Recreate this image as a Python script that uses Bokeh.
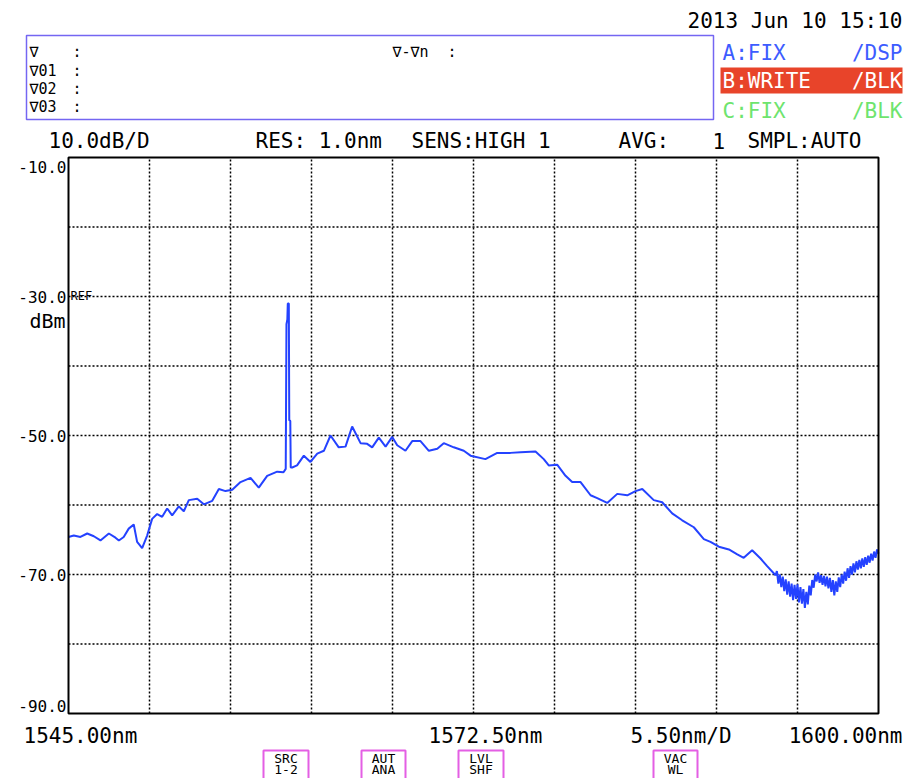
from bokeh.plotting import figure
from bokeh.models import Range1d
from bokeh.core.properties import value
from bokeh.embed import file_html
from bokeh.resources import INLINE

# ---------------- data ----------------
wavelength_nm = [
    1545.00, 1545.36, 1545.81, 1546.27, 1546.72, 1547.17, 1547.74, 1548.19, 1548.42, 1548.75,
    1549.09, 1549.43, 1549.66, 1550.00, 1550.34, 1550.68, 1551.02, 1551.36, 1551.70, 1552.04,
    1552.49, 1552.83, 1553.17, 1553.74, 1554.19, 1554.76, 1555.21, 1555.66, 1556.12, 1556.68,
    1557.36, 1557.92, 1558.49, 1559.17, 1559.60, 1559.75, 1559.80, 1559.86, 1559.89, 1559.96,
    1559.99, 1560.06, 1560.09, 1560.19, 1560.52, 1560.98, 1561.43, 1561.89, 1562.34, 1562.79,
    1563.35, 1563.81, 1564.26, 1564.83, 1565.28, 1565.62, 1566.07, 1566.53, 1566.98, 1567.32,
    1567.88, 1568.34, 1568.90, 1569.47, 1570.04, 1570.48, 1571.16, 1571.84, 1572.30, 1573.31,
    1574.11, 1575.01, 1575.69, 1576.71, 1577.27, 1577.61, 1578.18, 1578.75, 1579.20, 1579.77,
    1580.45, 1580.90, 1581.58, 1582.26, 1582.94, 1583.50, 1583.96, 1584.74, 1585.31, 1585.99,
    1586.67, 1587.46, 1588.14, 1588.59, 1589.16, 1589.84, 1590.41, 1590.85, 1591.42, 1591.99,
    1592.44, 1593.01,
    1593.1, 1593.2, 1593.3, 1593.4, 1593.5, 1593.6, 1593.7, 1593.8, 1593.9, 1594.0,
    1594.1, 1594.2, 1594.3, 1594.4, 1594.5, 1594.6, 1594.7, 1594.8, 1594.9, 1595.0,
    1595.1, 1595.2, 1595.3, 1595.4, 1595.5, 1595.6, 1595.7, 1595.8, 1595.9, 1596.0,
    1596.1, 1596.2, 1596.3, 1596.4, 1596.5, 1596.6, 1596.7, 1596.8, 1596.9, 1597.0,
    1597.1, 1597.2, 1597.3, 1597.4, 1597.5, 1597.6, 1597.7, 1597.8, 1597.9, 1598.0,
    1598.1, 1598.2, 1598.3, 1598.4, 1598.5, 1598.6, 1598.7, 1598.8, 1598.9, 1599.0,
    1599.1, 1599.2, 1599.3, 1599.4, 1599.5, 1599.6, 1599.7, 1599.8, 1599.9, 1600.0,
]
power_dbm = [
    -64.6, -64.4, -64.6, -64.1, -64.5, -65.1, -64.1, -64.7, -65.1, -64.6,
    -63.4, -62.8, -65.3, -66.2, -64.4, -62.0, -61.3, -61.7, -60.5, -61.5,
    -60.2, -60.9, -59.3, -59.1, -59.9, -59.4, -57.7, -58.0, -57.8, -56.7,
    -56.1, -57.5, -55.8, -55.2, -55.3, -54.8, -34.0, -33.3, -31.0, -31.0,
    -47.8, -47.9, -54.6, -54.6, -54.3, -52.9, -53.8, -52.6, -52.2, -50.0,
    -51.7, -51.6, -48.7, -51.1, -51.2, -51.7, -50.3, -51.6, -50.2, -51.4,
    -52.2, -50.8, -50.8, -52.2, -51.9, -51.1, -51.7, -52.2, -52.9, -53.4,
    -52.5, -52.5, -52.4, -52.3, -53.4, -54.3, -54.2, -55.8, -56.7, -56.7,
    -58.6, -59.0, -59.7, -58.4, -58.6, -58.0, -57.7, -59.3, -59.6, -61.2,
    -62.2, -63.2, -64.9, -65.3, -66.0, -66.4, -67.1, -67.6, -66.5, -67.7,
    -68.8, -70.1,
    -69.5, -71.3, -70.0, -71.8, -70.3, -72.4, -70.7, -72.9, -71.0, -73.2,
    -71.3, -73.7, -71.5, -73.5, -71.4, -74.0, -71.8, -74.2, -72.1, -74.8,
    -72.5, -74.3, -71.6, -73.0, -70.8, -71.9, -70.0, -71.0, -69.7, -71.2,
    -70.1, -71.5, -70.2, -71.7, -70.3, -72.0, -70.5, -72.5, -70.8, -73.0,
    -71.0, -72.5, -70.4, -71.8, -70.0, -71.3, -69.6, -70.9, -69.1, -70.5,
    -68.8, -70.0, -68.4, -69.7, -68.1, -69.3, -67.9, -69.1, -67.7, -68.9,
    -67.5, -68.6, -67.3, -68.3, -67.0, -68.0, -66.7, -67.6, -66.4, -67.0,
]

x_start_nm, x_stop_nm = 1545.0, 1600.0
y_bottom_dbm, y_top_dbm = -90.0, -10.0
x_div_nm = [1550.5, 1556.0, 1561.5, 1567.0, 1572.5, 1578.0, 1583.5, 1589.0, 1594.5]
y_div_dbm = [-20.0, -30.0, -40.0, -50.0, -60.0, -70.0, -80.0]
y_label_dbm = [-10.0, -30.0, -50.0, -70.0, -90.0]
y_label_text = ["-10.0", "-30.0", "-50.0", "-70.0", "-90.0"]
x_label_text = ["1545.00nm", "1572.50nm", "5.50nm/D", "1600.00nm"]
timestamp = "2013 Jun 10 15:10"
settings_text = ["10.0dB/D", "RES: 1.0nm", "SENS:HIGH 1", "AVG:", "1", "SMPL:AUTO"]
marker_rows = ["\u2207", "\u220701", "\u220702", "\u220703"]
trace_modes = [("A:FIX", "/DSP"), ("B:WRITE", "/BLK"), ("C:FIX", "/BLK")]
soft_keys = [("SRC", "1-2"), ("AUT", "ANA"), ("LVL", "SHF"), ("VAC", "WL")]

# ---------------- layout (page pixels) ----------------
W, H = 915, 778
M = 0
L, R, T, B = 68, 878, 157, 713
sx = (R - L) / (x_stop_nm - x_start_nm)
sy = (B - T) / (y_top_dbm - y_bottom_dbm)

x_range = Range1d(x_start_nm - (L - M) / sx, x_start_nm + (M + W - L) / sx)
y_range = Range1d(y_bottom_dbm - (M + H - B) / sy, y_top_dbm + (T - M) / sy)

FONT = value("DejaVu Sans Mono")

p = figure(width=W, height=H, x_range=x_range, y_range=y_range,
           output_backend="svg", toolbar_location=None, min_border=0,
           x_axis_location=None, y_axis_location=None,
           outline_line_color=None, background_fill_color="white",
           border_fill_color="white")
p.grid.visible = False
p.extra_x_ranges = {"px": Range1d(M, M + W)}
p.extra_y_ranges = {"py": Range1d(M + H, M)}
PG = dict(x_range_name="px", y_range_name="py")

# dotted grid
p.segment(x0=x_div_nm, y0=[y_bottom_dbm] * len(x_div_nm), x1=x_div_nm, y1=[y_top_dbm] * len(x_div_nm),
          line_color="black", line_width=1.5, line_dash="2 2")
p.segment(x0=[x_start_nm] * len(y_div_dbm), y0=y_div_dbm, x1=[x_stop_nm] * len(y_div_dbm), y1=y_div_dbm,
          line_color="black", line_width=1.5, line_dash="2 2")

# trace
p.line(wavelength_nm, power_dbm, line_color="#2442ff", line_width=2)

# plot frame
p.quad(left=[x_start_nm], right=[x_stop_nm], bottom=[y_bottom_dbm], top=[y_top_dbm],
       fill_color=None, line_color="black", line_width=2)

# y labels
p.text(x=[x_start_nm] * len(y_label_dbm), y=y_label_dbm, text=y_label_text,
       x_offset=-2, y_offset=[9, 0, 0, 0, -8],
       text_font=FONT, text_font_size="16px", text_align="right", text_baseline="middle",
       text_color="black")
p.text(x=[x_start_nm], y=[-30.0], text=["REF"], x_offset=2, y_offset=-1,
       text_font=FONT, text_font_size="12px", text_align="left", text_baseline="middle")
p.text(x=[65], y=[320], text=["dBm"], text_font=FONT, text_font_size="20px",
       text_align="right", text_baseline="middle", **PG)

# bottom labels
p.text(x=[23, 428, 630], y=[735, 735, 735], text=x_label_text[:3], text_font=FONT,
       text_font_size="21px", text_align="left", text_baseline="middle", **PG)
p.text(x=[902], y=[735], text=x_label_text[3:], text_font=FONT,
       text_font_size="21px", text_align="right", text_baseline="middle", **PG)

# settings row
p.text(x=[48, 255, 411, 618, 712, 747], y=[140] * 6, text=settings_text, text_font=FONT,
       text_font_size="21px", text_align="left", text_baseline="middle", **PG)

# timestamp
p.text(x=[902], y=[20], text=[timestamp], text_font=FONT, text_font_size="21px",
       text_align="right", text_baseline="middle", **PG)

# marker box
p.quad(left=[26], right=[713], top=[35], bottom=[119], fill_color=None,
       line_color="#7466f2", line_width=1.5, **PG)
p.text(x=[29] * 4, y=[51, 70, 88, 106], text=marker_rows, text_font=FONT,
       text_font_size="15px", text_align="left", text_baseline="middle", **PG)
p.text(x=[72] * 4, y=[51, 70, 88, 106], text=[":"] * 4, text_font=FONT,
       text_font_size="15px", text_align="left", text_baseline="middle", **PG)
p.text(x=[392, 447], y=[51, 51], text=["\u2207-\u2207n", ":"], text_font=FONT,
       text_font_size="15px", text_align="left", text_baseline="middle", **PG)

# trace mode panel
p.quad(left=[720], right=[902], top=[67], bottom=[93], fill_color="#e8442a",
       line_color=None, **PG)
mode_colors = ["#3d5cff", "white", "#6ee46e"]
mode_y = [52, 80, 110]
p.text(x=[722] * 3, y=mode_y, text=[m[0] for m in trace_modes], text_color=mode_colors,
       text_font=FONT, text_font_size="21px", text_align="left", text_baseline="middle", **PG)
p.text(x=[902] * 3, y=mode_y, text=[m[1] for m in trace_modes], text_color=mode_colors,
       text_font=FONT, text_font_size="21px", text_align="right", text_baseline="middle", **PG)

# soft keys
key_left = [263, 361, 458, 653]
key_right = [308, 405, 503, 697]
p.quad(left=key_left, right=key_right, top=[750] * 4, bottom=[790] * 4, fill_color=None,
       line_color="#e45fe4", line_width=2, **PG)
key_cx = [(a + b) / 2 for a, b in zip(key_left, key_right)]
p.text(x=key_cx, y=[758] * 4, text=[k[0] for k in soft_keys], text_font=FONT,
       text_font_size="13px", text_align="center", text_baseline="middle", **PG)
p.text(x=key_cx, y=[769] * 4, text=[k[1] for k in soft_keys], text_font=FONT,
       text_font_size="13px", text_align="center", text_baseline="middle", **PG)

open("out.html", "w").write(file_html(p, INLINE))
